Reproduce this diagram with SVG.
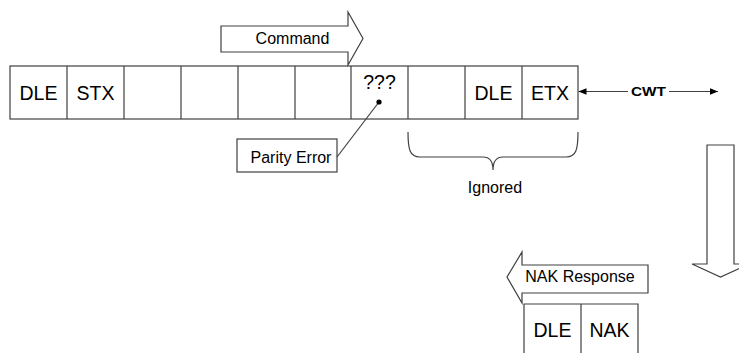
<svg xmlns="http://www.w3.org/2000/svg" width="739" height="353" viewBox="0 0 739 353">
<defs>
<style>
.s{fill:#fff;stroke:#404040;stroke-width:1.2}
.ln{fill:none;stroke:#404040;stroke-width:1.2}
.t{font-family:"Liberation Sans",Arial,sans-serif;fill:#000;text-anchor:middle}
.big{font-size:19.5px}
.sm{font-size:16px}
</style>
<marker id="ah" viewBox="0 0 10 8" refX="10" refY="4" markerWidth="8" markerHeight="6.4" markerUnits="userSpaceOnUse" orient="auto-start-reverse">
<path d="M0,0 L10,4 L0,8 z" fill="#000"/>
</marker>
</defs>
<rect width="739" height="353" fill="#fff"/>
<g id="frame">
<rect class="s" x="10" y="66" width="568" height="53"/>
<path class="ln" d="M67,66V119M124,66V119M181,66V119M238,66V119M295,66V119M351,66V119M408,66V119M465,66V119M522,66V119"/>
<text class="t big" x="38.5" y="100">DLE</text>
<text class="t big" x="95.5" y="100">STX</text>
<text class="t big" x="379.5" y="89">???</text>
<text class="t big" x="493.5" y="100">DLE</text>
<text class="t big" x="550" y="100">ETX</text>
</g>
<g id="command">
<polygon class="s" points="221,26 348,26 348,12 363,38.5 348,65 348,52 221,52"/>
<text class="t sm" x="292.5" y="44">Command</text>
</g>
<g id="parity">
<rect class="s" x="237" y="139" width="100" height="33"/>
<text class="t sm" x="291" y="163">Parity Error</text>
</g>
<g id="ignored">
<path class="ln" d="M408,132 C408,150 410,157 420,157 L483,157 C490,157 493,162 493,170 C493,162 496,157 503,157 L566,157 C576,157 578,150 578,132"/>
<text class="t sm" x="495" y="193">Ignored</text>
</g>
<g id="cwt">
<text class="t" x="648.5" y="96" font-size="12.5" font-weight="bold" textLength="35" lengthAdjust="spacingAndGlyphs">CWT</text>
</g>
<g id="down-arrow">
<polygon class="s" points="707,145 734,145 734,264 749,264 720.5,277 692,264 707,264"/>
</g>
<g id="nak-response">
<polygon class="s" points="648,265 522,265 522,252 507,277 522,303 522,293 648,293"/>
<text class="t sm" x="580" y="282">NAK Response</text>
</g>
<g id="nak-frame">
<path class="ln" d="M524,353V304H638V353M581,304V353"/>
<text class="t big" x="552.5" y="337">DLE</text>
<text class="t big" x="609.5" y="337">NAK</text>
</g>
<g id="connectors">
<path class="ln" d="M337,157 L379,102"/>
<circle cx="379" cy="102" r="2.6" fill="#000"/>
<line class="ln" x1="628" y1="91.5" x2="578.5" y2="91.5" stroke="#000" marker-end="url(#ah)"/>
<line class="ln" x1="669" y1="91.5" x2="718" y2="91.5" stroke="#000" marker-end="url(#ah)"/>
</g>
</svg>
